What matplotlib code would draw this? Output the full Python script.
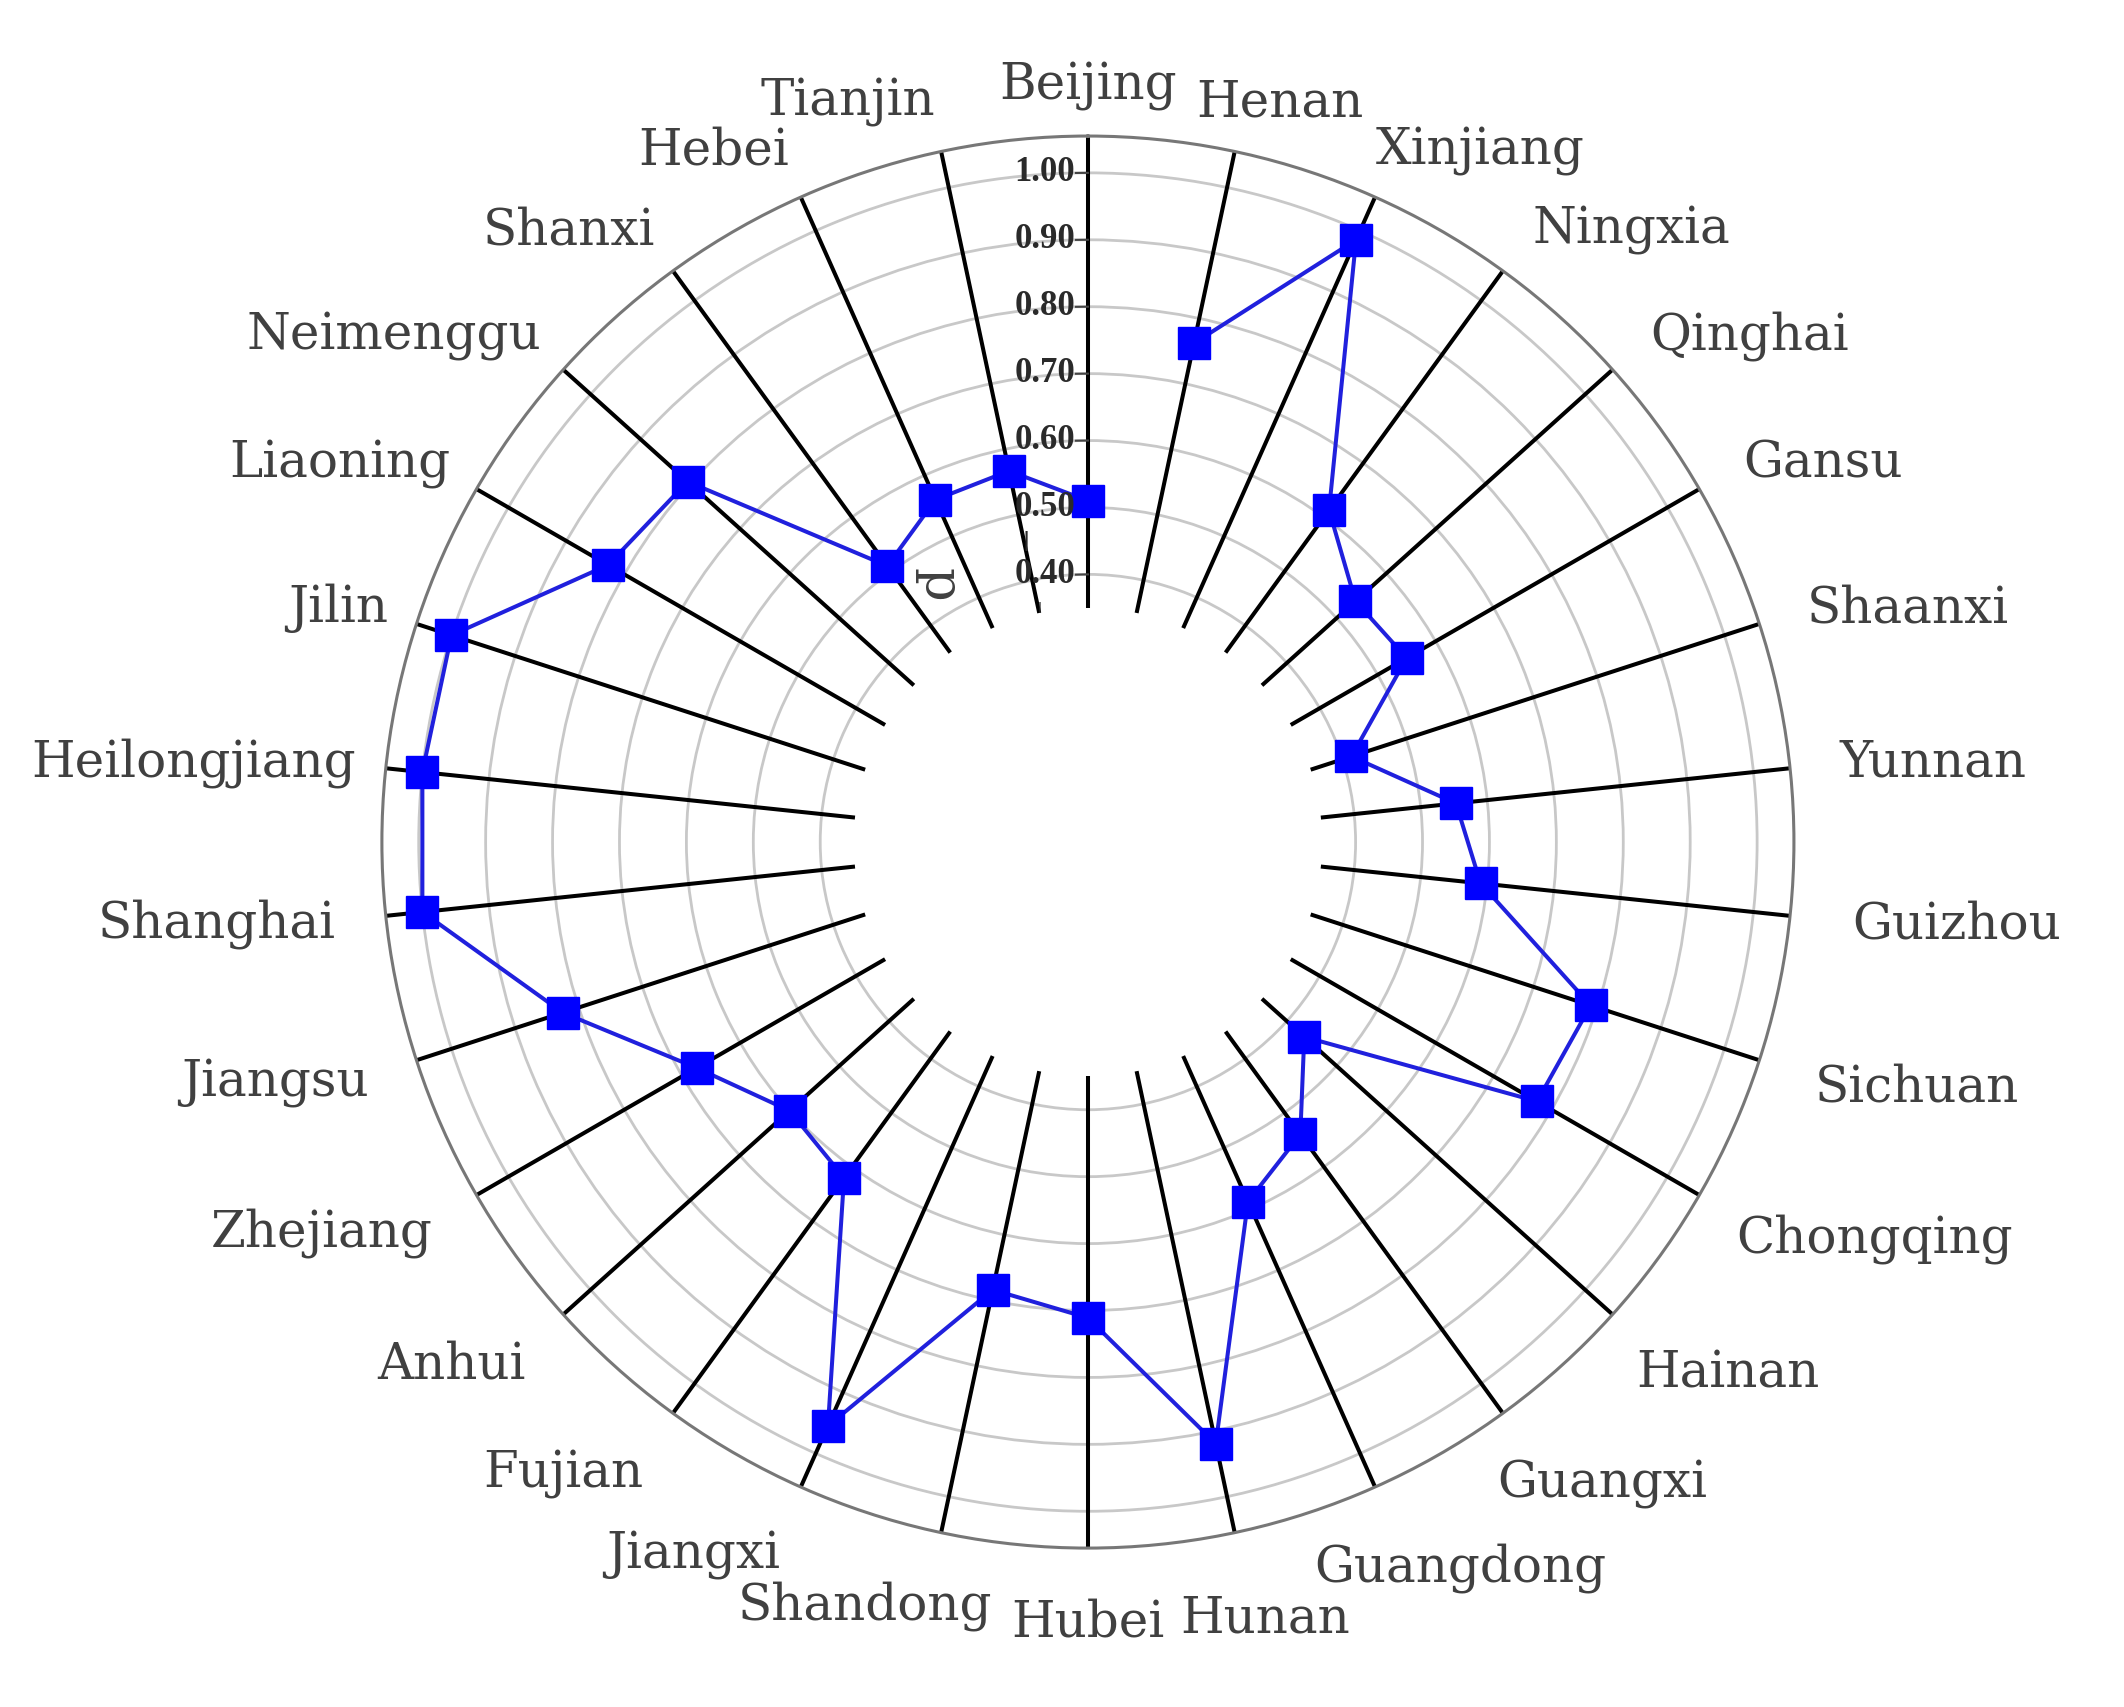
import numpy as np
import matplotlib
matplotlib.use("Agg")
import matplotlib.pyplot as plt

# provinces in plotting order (counter-clockwise from the top)
provinces = ["Beijing", "Tianjin", "Hebei", "Shanxi", "Neimenggu", "Liaoning",
             "Jilin", "Heilongjiang", "Shanghai", "Jiangsu", "Zhejiang", "Anhui",
             "Fujian", "Jiangxi", "Shandong", "Hubei", "Hunan", "Guangdong",
             "Guangxi", "Hainan", "Chongqing", "Sichuan", "Guizhou", "Yunnan",
             "Shaanxi", "Gansu", "Qinghai", "Ningxia", "Xinjiang", "Henan"]
values = [0.51, 0.567, 0.56, 0.51, 0.805, 0.828,
          1.00, 1.00, 1.00, 0.825, 0.675, 0.60,
          0.62, 0.955, 0.684, 0.711, 0.919, 0.588,
          0.54, 0.435, 0.775, 0.79, 0.59, 0.553,
          0.414, 0.55, 0.538, 0.613, 0.985, 0.762]
r_ticks = [0.40, 0.50, 0.60, 0.70, 0.80, 0.90, 1.00]

theta = np.deg2rad(np.arange(len(provinces)) * 360.0 / len(provinces))

label_font = "DejaVu Serif"
text_color = "#404040"

fig = plt.figure(figsize=(21.24, 17.07), dpi=100)
ax = fig.add_axes([0.1798, 0.0931, 0.6648, 0.8272], projection="polar")
ax.set_theta_zero_location("N")
ax.set_theta_direction(1)
ax.set_ylim(0, 1.055)

# grid: grey circles only, spokes drawn by hand
ax.set_xticks(theta)
ax.set_xticklabels([])
ax.xaxis.grid(False)
ax.set_yticks(r_ticks)
ax.set_yticklabels([])
ax.yaxis.grid(True, color="#c8c8c8", lw=2)
ax.tick_params(length=0)
ax.spines["polar"].set_color("#777777")
ax.spines["polar"].set_linewidth(2.2)

ax.vlines(theta, 0.35, 1.055, colors="black", lw=2.9, zorder=2)

ax.plot(theta, values, color="#2020dd", lw=2.9, marker="s", ms=23,
        mfc="#0000ff", mec="#0000ff", zorder=4, clip_on=False)

# radial tick labels along the top spoke
for v in r_ticks:
    span = 12 / 670 / v
    ax.plot([0, span], [v, v], color="#444444", lw=1.5, zorder=3)
    ax.annotate(f"{v:.2f}", xy=(0, v), xytext=(-13, 0), textcoords="offset pixels",
                ha="right", va="center", family="Liberation Serif", fontweight="bold",
                fontsize=25, color="#2a2a2a", zorder=5)

# axis title and stray marks
ax.text(np.deg2rad(30.0), 0.444, "p", rotation=-90, ha="center", va="center",
        family=label_font, fontsize=38, color=text_color)
ax.annotate("|", xy=(0, 0.45), xytext=(-62, 0), textcoords="offset pixels",
            ha="center", va="center", fontsize=14, fontweight="bold", color="#2a2a2a")
ax.annotate("|", xy=(0, 0.35), xytext=(-48, 0), textcoords="offset pixels",
            ha="center", va="center", fontsize=8, fontweight="bold", color="#2a2a2a")

# province labels around the circle
labels = []
for ang, name in zip(theta, provinces):
    t = ax.annotate(name, xy=(ang, 1.13), xytext=(0, 0), textcoords="offset pixels",
                    ha="center", va="center", family=label_font, fontsize=36,
                    color=text_color, annotation_clip=False)
    labels.append((t, ang))

fig.canvas.draw()
renderer = fig.canvas.get_renderer()
for t, ang in labels:
    ux, uy = -np.sin(ang), np.cos(ang)
    if uy > 0:
        # upper half: side aligned, vertically centred
        rx, ry = (1.10, 1.13) if ux < 0 else (1.13, 1.13)
        fx = np.sign(ux) if ux < 0 else min(1.0, 2 * ux)
        fy = 0.0
    elif ux > 0.01:
        # lower right: anchor slides with the angle
        rx = ry = 1.15
        fx, fy = ux, uy
    else:
        rx = ry = 1.13
        fx, fy = -min(1.0, 2.5 * abs(ux)), uy
    px = ax.transData.transform((ang, rx))[0]
    py = ax.transData.transform((ang, ry))[1]
    t.xy = ax.transData.inverted().transform((px, py))
    bb = t.get_window_extent(renderer)
    t.xyann = (fx * bb.width / 2, fy * bb.height / 2)

fig.savefig("out.png", dpi=100)
